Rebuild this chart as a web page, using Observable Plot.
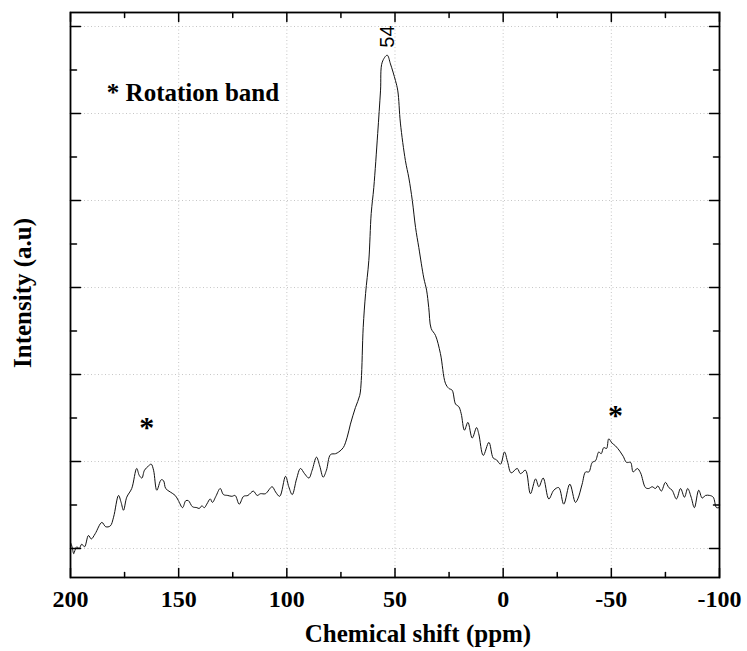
<!DOCTYPE html>
<html>
<head>
<meta charset="utf-8">
<script src="https://cdn.jsdelivr.net/npm/d3@7"></script>
<script src="https://cdn.jsdelivr.net/npm/@observablehq/plot@0.6"></script>
<style>
  body { margin: 0; background: white; }
</style>
</head>
<body>
<div id="chart"></div>
<script>
const shiftPpm = [
  200.0,199.4,198.5,198.2,197.1,196.0,194.8,193.5,191.7,190.4,188.6,185.5,183.7,181.6,180.1,177.8,176.6,175.5,174.0,171.7,
  169.4,168.2,167.0,165.8,163.9,162.7,161.6,160.1,158.1,157.0,156.0,153.9,151.6,150.1,148.2,146.7,145.5,143.6,141.6,140.5,
  139.3,138.1,137.0,135.4,134.4,132.8,130.8,129.3,127.3,125.4,123.9,122.0,120.0,118.0,115.5,113.7,112.2,109.9,106.8,105.2,
  103.3,100.6,99.1,97.5,95.5,93.7,91.8,89.8,88.3,86.3,84.8,83.2,81.7,79.8,77.5,76.0,73.9,72.1,70.6,68.3,
  66.3,65.6,64.7,63.6,62.1,61.0,59.8,58.0,56.7,55.9,53.6,52.1,49.8,48.7,47.5,45.2,43.6,42.0,40.5,39.0,
  36.7,35.4,34.4,33.3,31.3,29.0,26.7,25.1,23.6,22.0,20.5,19.4,17.9,16.3,14.3,12.3,11.3,9.2,6.6,4.6,
  3.1,1.2,-0.6,-2.1,-3.7,-6.5,-8.0,-10.3,-12.6,-15.0,-16.5,-18.5,-21.1,-23.4,-25.7,-28.0,-30.8,-33.4,-34.5,-36.5,
  -38.1,-39.6,-41.2,-42.7,-44.2,-45.3,-46.5,-47.8,-48.8,-50.4,-51.9,-53.9,-55.5,-57.0,-58.9,-60.1,-62.0,-63.5,-65.8,-67.3,
  -68.9,-70.4,-71.5,-73.1,-75.0,-76.6,-78.1,-80.1,-82.0,-83.8,-85.3,-86.9,-88.4,-90.4,-92.0,-93.5,-95.5,-97.1,-98.6,-99.7
];
const intensity = [
  0.07,0.03,-0.06,-0.04,0.02,0.00,0.05,0.02,0.15,0.11,0.17,0.30,0.25,0.26,0.36,0.61,0.53,0.44,0.59,0.69,
  0.92,0.84,0.81,0.90,0.95,0.97,0.90,0.67,0.79,0.78,0.69,0.65,0.61,0.55,0.47,0.55,0.55,0.48,0.47,0.46,
  0.49,0.47,0.51,0.57,0.53,0.60,0.69,0.62,0.61,0.60,0.61,0.51,0.60,0.61,0.66,0.61,0.63,0.63,0.71,0.65,
  0.60,0.83,0.71,0.62,0.80,0.92,0.86,0.81,0.90,1.05,0.95,0.82,0.90,1.08,1.09,1.11,1.16,1.28,1.43,1.62,
  1.76,1.93,2.54,2.93,3.31,3.85,4.15,4.77,5.26,5.59,5.67,5.57,5.38,5.26,4.89,4.46,4.26,4.00,3.69,3.46,
  3.11,2.97,2.77,2.53,2.45,2.24,1.90,1.84,1.82,1.66,1.63,1.55,1.36,1.45,1.27,1.39,1.32,1.07,1.22,1.04,
  1.02,0.97,1.11,0.99,0.87,0.92,0.86,0.90,0.63,0.80,0.71,0.81,0.57,0.67,0.70,0.51,0.74,0.53,0.57,0.74,
  0.88,0.88,0.99,1.01,1.11,1.09,1.16,1.15,1.26,1.21,1.18,1.12,1.06,0.99,0.99,0.88,0.92,0.87,0.70,0.69,
  0.71,0.69,0.72,0.66,0.76,0.70,0.67,0.57,0.69,0.59,0.69,0.59,0.47,0.67,0.58,0.61,0.61,0.59,0.47,0.47
];

const xMajorTicks = [200, 150, 100, 50, 0, -50, -100];
const xTickLabels = ["200", "150", "100", "50", "0", "-50", "-100"];
const xMinorTicks = [175, 125, 75, 25, -25, -75];
const xGridTicks = [150, 100, 50, 0, -50];
const yMajorTicks = [0, 1, 2, 3, 4, 5, 6];
const yMinorTicks = [0.5, 1.5, 2.5, 3.5, 4.5, 5.5];

const peakLabel = [{ppm: 53.2, value: 5.885, text: "54"}];
const bandMarks = [{ppm: 164.7, value: 1.39}, {ppm: -51.9, value: 1.53}];
const bandNote = [{ppm: 183.2, value: 5.24, text: "* Rotation band"}];

const spectrum = shiftPpm.map((p, i) => ({ppm: p, value: intensity[i]}));

const tickShape = {
  draw(context, l) {
    context.moveTo(0, 0);
    context.lineTo(0, -l);
  }
};

const serif = "'Liberation Serif', 'Times New Roman', serif";

const chart = Plot.plot({
  width: 747,
  height: 651,
  marginLeft: 70,
  marginRight: 28,
  marginTop: 12,
  marginBottom: 74,
  style: {background: "white", fontFamily: serif},
  x: {domain: [200, -100], axis: null},
  y: {domain: [-0.333, 6.161], axis: null},
  marks: [
    Plot.gridX(xGridTicks, {stroke: "#b8b8b8", strokeOpacity: 0.8, strokeDasharray: "1,2.5"}),
    Plot.gridY(yMajorTicks, {stroke: "#b8b8b8", strokeOpacity: 0.8, strokeDasharray: "1,2.5"}),
    Plot.line(spectrum, {x: "ppm", y: "value", stroke: "#111", strokeWidth: 1, curve: "catmull-rom"}),
    // ticks (inward)
    Plot.vector(xMajorTicks, {x: d => d, frameAnchor: "bottom", length: 9, rotate: 0, anchor: "start", shape: tickShape, stroke: "black", strokeWidth: 1.5}),
    Plot.vector(xMinorTicks, {x: d => d, frameAnchor: "bottom", length: 5, rotate: 0, anchor: "start", shape: tickShape, stroke: "black", strokeWidth: 1.5}),
    Plot.vector(xMajorTicks, {x: d => d, frameAnchor: "top", length: 9, rotate: 180, anchor: "start", shape: tickShape, stroke: "black", strokeWidth: 1.5}),
    Plot.vector(xMinorTicks, {x: d => d, frameAnchor: "top", length: 5, rotate: 180, anchor: "start", shape: tickShape, stroke: "black", strokeWidth: 1.5}),
    Plot.vector(yMajorTicks, {y: d => d, frameAnchor: "left", length: 10, rotate: 90, anchor: "start", shape: tickShape, stroke: "black", strokeWidth: 1.5}),
    Plot.vector(yMinorTicks, {y: d => d, frameAnchor: "left", length: 6, rotate: 90, anchor: "start", shape: tickShape, stroke: "black", strokeWidth: 1.5}),
    Plot.vector(yMajorTicks, {y: d => d, frameAnchor: "right", length: 10, rotate: -90, anchor: "start", shape: tickShape, stroke: "black", strokeWidth: 1.5}),
    Plot.vector(yMinorTicks, {y: d => d, frameAnchor: "right", length: 6, rotate: -90, anchor: "start", shape: tickShape, stroke: "black", strokeWidth: 1.5}),
    Plot.frame({stroke: "black", strokeWidth: 1.8}),
    // tick labels
    Plot.text(xMajorTicks, {x: d => d, text: (d, i) => xTickLabels[i], frameAnchor: "bottom", dy: 22, textAnchor: "middle", lineAnchor: "middle", fontSize: 24, fontWeight: "bold", fontFamily: serif, fill: "black"}),
    // axis titles
    Plot.text(["Chemical shift (ppm)"], {frameAnchor: "bottom", dx: 23, dy: 56, textAnchor: "middle", lineAnchor: "middle", fontSize: 25, fontWeight: "bold", fontFamily: serif, fill: "black"}),
    Plot.text(["Intensity (a.u)"], {frameAnchor: "left", dx: -48, dy: -2, rotate: -90, textAnchor: "middle", lineAnchor: "middle", fontSize: 25, fontWeight: "bold", fontFamily: serif, fill: "black"}),
    // annotations
    Plot.text(bandNote, {x: "ppm", y: "value", text: "text", textAnchor: "start", lineAnchor: "middle", fontSize: 25, fontWeight: "bold", fontFamily: serif, fill: "black"}),
    Plot.text(bandMarks, {x: "ppm", y: "value", text: () => "*", textAnchor: "middle", lineAnchor: "middle", fontSize: 30, fontWeight: "bold", fontFamily: serif, fill: "black"}),
    Plot.text(peakLabel, {x: "ppm", y: "value", text: "text", rotate: -90, textAnchor: "middle", lineAnchor: "middle", fontSize: 20, fontFamily: "'Liberation Sans', Arial, sans-serif", fill: "black"})
  ]
});

document.getElementById("chart").appendChild(chart);
</script>
</body>
</html>
